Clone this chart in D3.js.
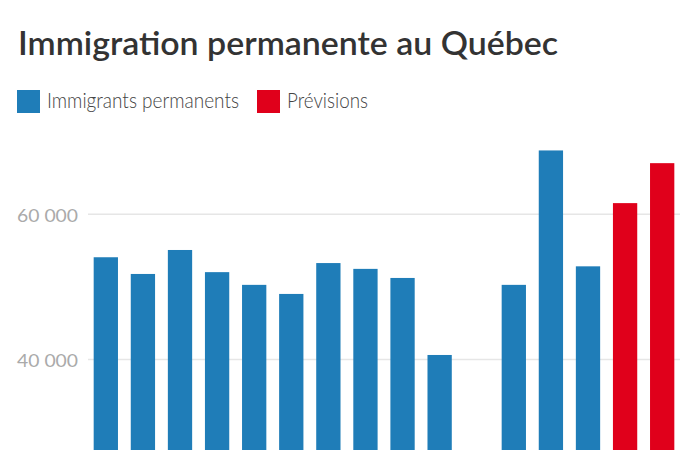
<!DOCTYPE html>
<html>
<head>
<meta charset="utf-8">
<script src="https://cdn.jsdelivr.net/npm/d3@7"></script>
<style>
  html, body { margin: 0; padding: 0; background: #fff; }
  svg { display: block; }
</style>
</head>
<body>
<div id="chart"></div>
<script>
// ---- Data ----
const years = ["2010","2011","2012","2013","2014","2015","2016","2017","2018","2019","2020","2021","2022","2023","2024","2025"];
const immigrants = [54000, 51700, 55000, 51950, 50200, 48950, 53200, 52400, 51150, 40550, 25200, 50200, 68700, 52750, null, null];
const previsions = [null, null, null, null, null, null, null, null, null, null, null, null, null, null, 61450, 66950];
const yTicks = [40000, 60000];
const seriesNames = ["Immigrants permanents", "Prévisions"];
const seriesColors = ["#1f7db8", "#e0001b"];

const W = 700, H = 450;
const svg = d3.select("#chart").append("svg").attr("width", W).attr("height", H);

// Title
svg.append("text")
  .attr("x", 18).attr("y", 55)
  .attr("font-family", "Lato, sans-serif")
  .attr("font-weight", 600)
  .attr("font-size", 32)
  .attr("fill", "#333")
  .attr("textLength", 540)
  .attr("lengthAdjust", "spacingAndGlyphs")
  .text("Immigration permanente au Québec");

// Legend
const legend = svg.append("g");
const legendItems = [{x: 17, tx: 47, tl: 192}, {x: 257, tx: 287, tl: 81}];
seriesNames.forEach((name, i) => {
  legend.append("rect")
    .attr("x", legendItems[i].x).attr("y", 90)
    .attr("width", 23).attr("height", 23)
    .attr("fill", seriesColors[i]);
  legend.append("text")
    .attr("x", legendItems[i].tx).attr("y", 107.5)
    .attr("font-family", "Lato, sans-serif")
    .attr("font-weight", 300)
    .attr("font-size", 21)
    .attr("fill", "#444")
    .attr("textLength", legendItems[i].tl)
    .attr("lengthAdjust", "spacingAndGlyphs")
    .text(name);
});

// Scales
const x = d3.scaleBand().domain(years).range([88, 680]).paddingInner(0.345).paddingOuter(0.153);
const y = d3.scaleLinear().domain([0, 70000]).range([649.6, 141]);

// Y axis labels
const yAxis = d3.axisLeft(y).tickValues(yTicks).tickSize(0)
  .tickFormat(d => d3.format(",")(d).replace(/,/g, " "));
const gy = svg.append("g").attr("transform", "translate(78,0)").call(yAxis);
gy.select(".domain").remove();
gy.selectAll("text")
  .attr("x", 0).attr("dy", "0.45em")
  .attr("font-family", "Lato, sans-serif")
  .attr("font-size", 17)
  .attr("fill", "#aaa")
  .attr("textLength", 61)
  .attr("lengthAdjust", "spacingAndGlyphs");

// Gridlines
const grid = d3.axisLeft(y).tickValues(yTicks).tickSize(-(680 - 88)).tickFormat("");
const gg = svg.append("g").attr("transform", "translate(88,0)").call(grid);
gg.select(".domain").remove();
gg.selectAll("line").attr("stroke", "#e6e6e6").attr("stroke-width", 1.5);

// Bars (baseline lies below the visible crop)
const data = years.map((yr, i) => ({year: yr, imm: immigrants[i], prev: previsions[i]}));
svg.append("g").selectAll("rect")
  .data(data.filter(d => d.imm != null))
  .join("rect")
  .attr("x", d => x(d.year)).attr("width", x.bandwidth())
  .attr("y", d => y(d.imm)).attr("height", d => y(0) - y(d.imm))
  .attr("fill", seriesColors[0]);
svg.append("g").selectAll("rect")
  .data(data.filter(d => d.prev != null))
  .join("rect")
  .attr("x", d => x(d.year)).attr("width", x.bandwidth())
  .attr("y", d => y(d.prev)).attr("height", d => y(0) - y(d.prev))
  .attr("fill", seriesColors[1]);
</script>
</body>
</html>
